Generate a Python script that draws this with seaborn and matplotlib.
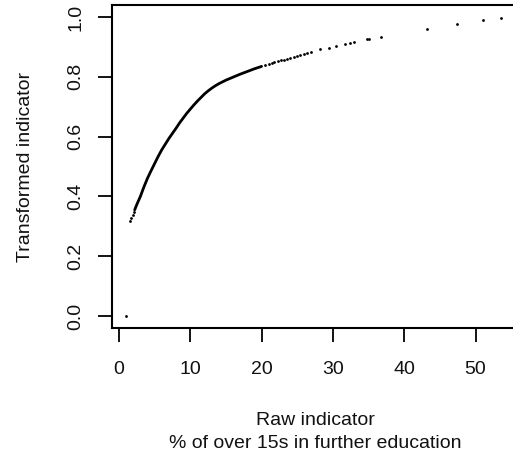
import pandas as pd
import numpy as np
import seaborn as sns
import matplotlib.pyplot as plt

# Values
# dense part of the curve (points overlap into a solid line)
curve_x = [2.2, 2.5, 3.0, 3.5, 4.0, 4.5, 5.0, 5.5, 6.0, 6.5, 7.0, 7.5, 8.0, 8.5,
           9.0, 9.5, 10.0, 10.5, 11.0, 11.5, 12.0, 12.5, 13.0, 13.5, 14.0, 14.5,
           15.0, 16.0, 17.0, 18.0, 19.0, 20.0]
curve_y = [0.355, 0.373, 0.400, 0.432, 0.461, 0.486, 0.510, 0.534, 0.556, 0.575,
           0.594, 0.611, 0.628, 0.646, 0.662, 0.678, 0.692, 0.706, 0.719, 0.731,
           0.743, 0.753, 0.762, 0.770, 0.777, 0.783, 0.789, 0.799, 0.809, 0.818,
           0.827, 0.835]

# separate points (outlier, start of curve and the sparse tail)
dots_x = [1.0, 1.6, 1.75, 1.9, 2.05,
          20.5, 21.0, 21.4, 21.8, 22.3, 22.7, 23.1, 23.6, 24.0, 24.5, 25.0, 25.4,
          25.9, 26.3, 27.0, 28.2, 29.4, 30.4, 31.7, 32.4, 33.0, 34.8, 35.0, 36.8,
          43.2, 47.4, 51.1, 53.6]
dots_y = [0.0, 0.318, 0.328, 0.338, 0.347,
          0.839, 0.843, 0.846, 0.849, 0.852, 0.855, 0.857, 0.860, 0.863, 0.866,
          0.870, 0.873, 0.877, 0.880, 0.884, 0.892, 0.897, 0.904, 0.911, 0.913,
          0.915, 0.925, 0.925, 0.934, 0.960, 0.976, 0.990, 0.998]

x_ticks = [0, 10, 20, 30, 40, 50]
y_ticks = [0.0, 0.2, 0.4, 0.6, 0.8, 1.0]
y_ticklabels = ['0.0', '0.2', '0.4', '0.6', '0.8', '1.0']

df_curve = pd.DataFrame({'raw': curve_x, 'transformed': curve_y})
df_dots = pd.DataFrame({'raw': dots_x, 'transformed': dots_y})

sns.set_style('white')
plt.rcParams['font.family'] = ['Liberation Sans', 'DejaVu Sans']
plt.rcParams['text.color'] = 'black'
plt.rcParams['axes.labelcolor'] = 'black'

fig = plt.figure(figsize=(5.13, 4.68), dpi=100)
ax = fig.add_axes([0.2183, 0.2991, 0.792, 0.690])

sns.lineplot(data=df_curve, x='raw', y='transformed', ax=ax, color='black',
             linewidth=2.0, sort=False)
sns.scatterplot(data=df_dots, x='raw', y='transformed', ax=ax, color='black',
                s=4, linewidth=0)

ax.set_xlim(-0.98, 56.0)
ax.set_ylim(-0.040, 1.040)
ax.set_xticks(x_ticks)
ax.set_yticks(y_ticks)
ax.set_yticklabels(y_ticklabels, rotation=90, va='center')

for s in ax.spines.values():
    s.set_visible(True)
    s.set_color('black')
    s.set_linewidth(1.5)

# ticks like base R: outward, on bottom and left only
ax.tick_params(axis='both', direction='out', length=10, width=1.3,
               bottom=True, left=True, top=False, right=False,
               labelsize=14, color='black', labelcolor='#111111')
ax.tick_params(axis='x', pad=14)
ax.tick_params(axis='y', pad=10)

ax.set_xlabel('Raw indicator\n% of over 15s in further education',
              fontsize=14, linespacing=1.5, labelpad=24, color='#111111')
ax.set_ylabel('Transformed indicator', fontsize=14, labelpad=24, color='#111111')

fig.savefig('out.png', dpi=100)
